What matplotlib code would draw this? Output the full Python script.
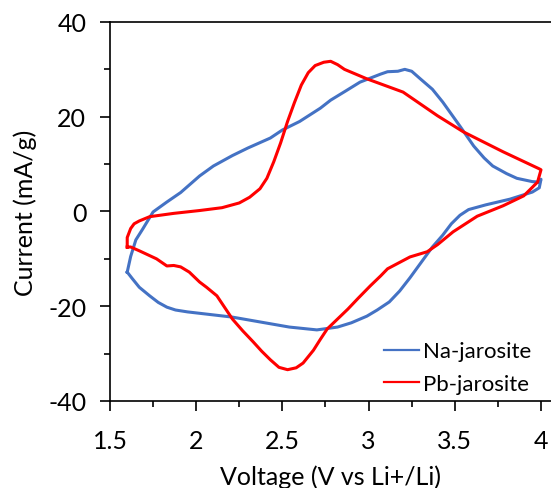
import numpy as np
import matplotlib
matplotlib.use("Agg")
import matplotlib.pyplot as plt
from matplotlib.ticker import MultipleLocator

plt.rcParams['font.family'] = ['Lato', 'DejaVu Sans']
plt.rcParams['axes.unicode_minus'] = False

# Na-jarosite: anodic sweep 1.6 -> 4.0 V, then cathodic back to 1.6 V
na_v = [1.60, 1.62, 1.65, 1.69, 1.75, 1.83, 1.91, 2.02, 2.10, 2.21, 2.30, 2.43,
        2.50, 2.60, 2.72, 2.78, 2.87, 2.95, 3.07, 3.11, 3.17, 3.21, 3.25, 3.30,
        3.37, 3.43, 3.53, 3.61, 3.67, 3.72, 3.80, 3.86, 3.95, 3.99, 4.00,
        3.99, 3.95, 3.82, 3.68, 3.58, 3.53, 3.48, 3.43, 3.37, 3.32, 3.24, 3.18,
        3.12, 3.05, 2.99, 2.90, 2.82, 2.70, 2.54, 2.43, 2.21, 1.95, 1.88, 1.83,
        1.78, 1.73, 1.67, 1.63, 1.60]
na_i = [-12.8, -9.5, -6.0, -3.7, -0.1, 2.0, 4.0, 7.5, 9.6, 11.8, 13.4, 15.5,
        17.2, 19.0, 21.8, 23.5, 25.5, 27.3, 29.0, 29.5, 29.6, 30.0, 29.6, 28.0,
        25.8, 23.1, 18.0, 13.8, 11.3, 9.6, 8.0, 7.0, 6.3, 6.2, 6.8,
        5.0, 4.1, 2.6, 1.4, 0.4, -0.8, -2.6, -5.0, -7.5, -10.0, -14.0, -16.8,
        -19.1, -20.8, -22.1, -23.5, -24.4, -25.0, -24.4, -23.7, -22.3, -21.2, -20.8, -20.2,
        -19.2, -17.8, -16.0, -14.2, -12.8]

# Pb-jarosite
pb_v = [1.60, 1.60, 1.62, 1.64, 1.67, 1.73, 1.87, 2.02, 2.15, 2.25, 2.31, 2.34,
        2.37, 2.41, 2.45, 2.49, 2.53, 2.57, 2.61, 2.65, 2.69, 2.74, 2.78, 2.82,
        2.86, 2.99, 3.20, 3.40, 3.55, 3.78, 3.99, 4.00,
        3.98, 3.90, 3.78, 3.63, 3.49, 3.40, 3.34, 3.24, 3.11, 3.07, 3.01,
        2.94, 2.88, 2.82, 2.76, 2.72, 2.68, 2.62, 2.58, 2.53, 2.48, 2.43, 2.38,
        2.33, 2.27, 2.21, 2.12, 2.06, 2.02, 1.96, 1.91, 1.87, 1.83, 1.77, 1.67,
        1.62, 1.60]
pb_i = [-7.5, -5.5, -3.6, -2.6, -2.0, -1.1, -0.4, 0.2, 0.8, 1.8, 3.0, 3.9,
        4.8, 7.0, 10.5, 14.5, 19.0, 23.0, 26.7, 29.3, 30.8, 31.5, 31.7, 31.0,
        30.0, 28.0, 25.2, 20.2, 16.8, 12.6, 9.0, 8.8,
        6.2, 3.3, 1.2, -1.0, -4.3, -7.0, -8.5, -9.6, -12.1, -13.6, -15.7,
        -18.3, -20.6, -22.7, -24.8, -27.0, -29.3, -32.0, -33.0, -33.4, -32.9, -31.3, -29.5,
        -27.5, -25.2, -22.7, -17.8, -16.0, -14.9, -12.8, -11.7, -11.4, -11.5, -10.0, -8.3,
        -7.5, -7.5]

fig = plt.figure(figsize=(5.51, 4.89), dpi=100)
ax = fig.add_axes([0.1996, 0.178, 0.8004, 0.775])

ax.plot(na_v, na_i, color='#4472C4', lw=2.2, label='Na-jarosite')
ax.plot(pb_v, pb_i, color='#FF0000', lw=2.2, label='Pb-jarosite')

ax.set_xlim(1.5, 4.058)
ax.set_ylim(-40, 40)
ax.xaxis.set_minor_locator(MultipleLocator(0.25))
ax.yaxis.set_major_locator(MultipleLocator(20))
ax.yaxis.set_minor_locator(MultipleLocator(10))
ax.set_xticks([1.5, 2, 2.5, 3, 3.5, 4])
ax.set_xticklabels(['1.5', '2', '2.5', '3', '3.5', '4'])
ax.tick_params(which='major', length=7, width=1.2, labelsize=18)
ax.tick_params(axis='y', which='major', pad=10)
ax.tick_params(axis='x', which='major', pad=13)
ax.tick_params(which='minor', length=4.5, width=1.2)
ax.spines['right'].set_visible(False)
for s in ['left', 'bottom', 'top']:
    ax.spines[s].set_linewidth(1.2)

ax.set_xlabel('Voltage (V vs Li+/Li)', fontsize=18, labelpad=9)
ax.set_ylabel('Current (mA/g)', fontsize=18, labelpad=8)

leg = ax.legend(loc='lower right', bbox_to_anchor=(0.98, -0.01), frameon=False,
                fontsize=16, handlelength=1.6, handletextpad=0.15,
                labelspacing=0.55, borderpad=0)
for line in leg.get_lines():
    line.set_linewidth(1.6)

fig.savefig('out.png', dpi=100)
